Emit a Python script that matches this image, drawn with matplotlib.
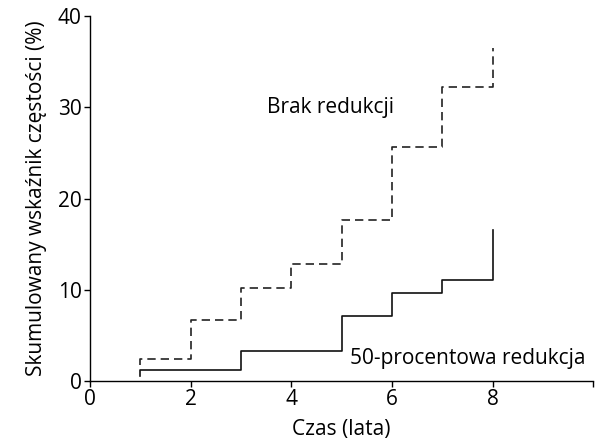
import matplotlib
matplotlib.use("Agg")
import matplotlib.pyplot as plt

plt.rcParams['font.family'] = ['Open Sans', 'DejaVu Sans']

# Data (years, cumulative incidence %)
years_no_red = [1, 1, 2, 3, 4, 5, 6, 7, 8]
vals_no_red = [1.7, 2.45, 6.7, 10.2, 12.8, 17.6, 25.7, 32.2, 36.5]
years_50 = [1, 1, 3, 5, 6, 7, 8]
vals_50 = [0.6, 1.15, 3.3, 7.1, 9.7, 11.1, 16.5]

xticks = [0, 2, 4, 6, 8, 10]
xticklabels = ['0', '2', '4', '6', '8', '']
yticks = [0, 10, 20, 30, 40]

label_no_red = 'Brak redukcji'
label_50 = '50-procentowa redukcja'
xlabel = 'Czas (lata)'
ylabel = 'Skumulowany wskaźnik częstości (%)'

FS = 15

fig = plt.figure(figsize=(6.01, 4.48), dpi=100)
ax = fig.add_axes([0.1498, 0.1496, 0.987 - 0.1498, 0.964 - 0.1496])

ax.plot(years_no_red, vals_no_red, drawstyle='steps-post', color='#222222',
        linestyle=(0, (5, 3)), linewidth=1.2)
ax.plot(years_50, vals_50, drawstyle='steps-post', color='#111111',
        linewidth=1.2)

ax.text(4.77, 30.0, label_no_red, ha='center', va='center', fontsize=FS)
ax.text(5.17, 2.5, label_50, ha='left', va='center', fontsize=FS)

ax.set_xlim(0, 10)
ax.set_ylim(0, 40)
ax.set_xticks(xticks)
ax.set_xticklabels(xticklabels)
ax.set_yticks(yticks)
ax.tick_params(labelsize=FS, length=4, width=1, direction='out', pad=2)
for s in ['top', 'right']:
    ax.spines[s].set_visible(False)
for s in ['left', 'bottom']:
    ax.spines[s].set_linewidth(1)

ax.set_xlabel(xlabel, fontsize=FS, labelpad=6)
ax.set_ylabel(ylabel, fontsize=FS, labelpad=8)

fig.savefig('out.png', dpi=100)
